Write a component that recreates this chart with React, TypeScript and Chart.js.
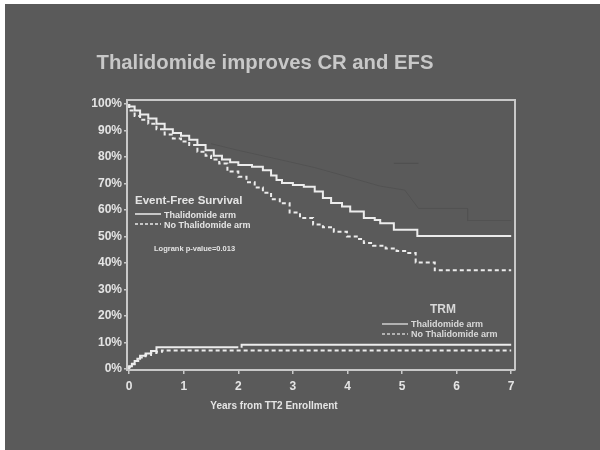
import { useEffect, useRef } from "react";
import { Chart, registerables } from "chart.js";
Chart.register(...registerables);

const chartTitle = "Thalidomide improves CR and EFS";
const xAxisTitle = "Years from TT2 Enrollment";
const xTickValues = [0, 1, 2, 3, 4, 5, 6, 7];
const yTickValues = [0, 10, 20, 30, 40, 50, 60, 70, 80, 90, 100];

// Event-free survival, thalidomide arm (solid)
const efsThalYears = [0, 0.1, 0.2, 0.35, 0.5, 0.65, 0.8, 0.95, 1.1, 1.25, 1.4, 1.55, 1.7, 1.85, 2.0, 2.25, 2.45, 2.6, 2.7, 2.8, 3.0, 3.2, 3.4, 3.55, 3.7, 3.9, 4.05, 4.3, 4.5, 4.6, 4.85, 5.28, 5.75, 7.0];
const efsThalPct = [100, 99, 97.5, 96, 94.5, 92.5, 90.5, 89, 88, 86.5, 84.5, 82.5, 80.5, 79, 78, 77, 76.3, 75, 73, 71.3, 70.2, 69.4, 68.8, 67, 64.5, 62.6, 61.3, 59.4, 57, 56.2, 55, 52.5, 50.2, 50.2];

// Event-free survival, no thalidomide arm (dashed)
const efsNoThalYears = [0, 0.1, 0.2, 0.35, 0.5, 0.65, 0.8, 0.95, 1.1, 1.25, 1.4, 1.5, 1.65, 1.8, 2.0, 2.15, 2.3, 2.45, 2.6, 2.76, 2.94, 3.13, 3.37, 3.55, 3.75, 3.99, 4.17, 4.3, 4.47, 4.7, 4.9, 5.09, 5.25, 5.6, 6.1, 7.0];
const efsNoThalPct = [100, 97.5, 95.5, 94, 92.5, 90.5, 88.5, 87, 85.8, 84.5, 82, 80.5, 79, 77.5, 74.5, 72.5, 70.5, 68.5, 66.5, 64, 62.5, 59, 57, 54.5, 53.5, 51.8, 50, 49, 47.5, 46.5, 45.5, 44.5, 43.8, 40.2, 37.2, 37.2];

// Treatment-related mortality, thalidomide arm (solid)
const trmThalYears = [0, 0.05, 0.1, 0.15, 0.2, 0.3, 0.4, 0.5, 0.6, 2.0, 2.03, 2.06, 2.06, 7.0];
const trmThalPct = [0, 1, 2, 3, 3.8, 5, 5.8, 6.8, 8.2, 8.2, null, 8.0, 9.1, 9.1];

// Treatment-related mortality, no thalidomide arm (dashed)
const trmNoThalYears = [0, 0.05, 0.1, 0.2, 0.3, 0.4, 0.5, 0.6, 0.9, 7.0];
const trmNoThalPct = [0, 0.8, 1.8, 3, 4.3, 5.3, 6, 6.5, 7, 7];

// faint ghost traces left on the slide
const ghostYears = [1.5, 2.0, 2.76, 3.4, 3.75, 4.6, 5.05, 5.3, 6.2, 6.2, 7.0];
const ghostPct = [85, 82.5, 79, 76, 74, 69, 67.5, 60.6, 60.6, 56, 56];
const ghostShortYears = [4.85, 5.3];
const ghostShortPct = [77.6, 77.6];

const FONT = '"Liberation Sans", Arial, sans-serif';
const AXIS = "#c8c8c8";
const TEXT = "#e4e4e4";
const LINE = "#ececec";

const pts = (xs: number[], ys: (number | null)[]) => xs.map((x, i) => ({ x, y: ys[i] }));

export default function App() {
  const ref = useRef<HTMLCanvasElement>(null);
  useEffect(() => {
    if (!ref.current) return;
    const textPlugin = {
      id: "texts",
      afterDraw(chart: any) {
        const ctx = chart.ctx;
        const a = chart.chartArea;
        ctx.save();
        // top & right border
        ctx.strokeStyle = AXIS;
        ctx.lineWidth = 2;
        ctx.beginPath();
        ctx.moveTo(a.left, a.top);
        ctx.lineTo(a.right, a.top);
        ctx.lineTo(a.right, a.bottom);
        ctx.stroke();
        // title
        ctx.fillStyle = "#c8c8c8";
        ctx.textAlign = "center";
        ctx.textBaseline = "middle";
        ctx.font = `bold 20.3px ${FONT}`;
        ctx.fillText(chartTitle, 260, 59);
        // x axis title
        ctx.fillStyle = TEXT;
        ctx.font = `bold 10px ${FONT}`;
        ctx.fillText(xAxisTitle, 269, 402);
        // EFS legend
        ctx.textAlign = "left";
        ctx.font = `bold 11.5px ${FONT}`;
        ctx.fillText("Event-Free Survival", 130, 197);
        ctx.font = `bold 9px ${FONT}`;
        ctx.fillText("Thalidomide arm", 159, 212);
        ctx.fillText("No Thalidomide arm", 159, 222);
        ctx.font = `bold 7.5px ${FONT}`;
        ctx.fillText("Logrank p-value=0.013", 149, 245);
        ctx.strokeStyle = LINE;
        ctx.lineWidth = 1.5;
        ctx.beginPath();
        ctx.moveTo(130, 210);
        ctx.lineTo(156, 210);
        ctx.stroke();
        ctx.setLineDash([3, 2]);
        ctx.beginPath();
        ctx.moveTo(130, 220);
        ctx.lineTo(156, 220);
        ctx.stroke();
        ctx.setLineDash([]);
        // TRM legend
        ctx.fillStyle = "#d8d8d8";
        ctx.textAlign = "center";
        ctx.font = `bold 12px ${FONT}`;
        ctx.fillText("TRM", 438, 306);
        ctx.textAlign = "left";
        ctx.font = `bold 9px ${FONT}`;
        ctx.fillText("Thalidomide arm", 406, 321);
        ctx.fillText("No Thalidomide arm", 406, 331);
        ctx.strokeStyle = "#cfcfcf";
        ctx.beginPath();
        ctx.moveTo(377, 320);
        ctx.lineTo(403, 320);
        ctx.stroke();
        ctx.setLineDash([3, 2]);
        ctx.beginPath();
        ctx.moveTo(377, 330);
        ctx.lineTo(403, 330);
        ctx.stroke();
        ctx.restore();
      },
    };
    const chart = new Chart(ref.current, {
      type: "line",
      data: {
        datasets: [
          { data: pts(ghostYears, ghostPct), borderColor: "#525252", borderWidth: 1, pointRadius: 0, stepped: false },
          { data: pts(ghostShortYears, ghostShortPct), borderColor: "#4f4f4f", borderWidth: 1.2, pointRadius: 0, stepped: false },
          { data: pts(efsThalYears, efsThalPct), borderColor: LINE, borderWidth: 2, pointRadius: 0, stepped: "after" },
          { data: pts(efsNoThalYears, efsNoThalPct), borderColor: LINE, borderWidth: 2, pointRadius: 0, stepped: "after", borderDash: [4, 3] },
          { data: pts(trmThalYears, trmThalPct), borderColor: LINE, borderWidth: 2, pointRadius: 0, stepped: "after", spanGaps: false },
          { data: pts(trmNoThalYears, trmNoThalPct), borderColor: LINE, borderWidth: 2, pointRadius: 0, stepped: "after", borderDash: [4, 3] },
        ] as any,
      },
      options: {
        animation: false,
        responsive: false,
        maintainAspectRatio: false,
        layout: { padding: { top: 96, right: 85, left: 0, bottom: 0 } },
        plugins: { legend: { display: false }, tooltip: { enabled: false }, title: { display: false } },
        scales: {
          x: {
            type: "linear",
            min: -0.04,
            max: 7.07,
            afterBuildTicks: (s: any) => { s.ticks = xTickValues.map((v) => ({ value: v })); },
            afterFit: (s: any) => { s.height = 80; },
            ticks: { color: TEXT, font: { family: FONT, size: 12, weight: "bold" }, padding: 5, maxRotation: 0, autoSkip: false, callback: (v: any) => String(v) },
            grid: { drawOnChartArea: false, drawTicks: true, tickLength: 4, color: AXIS, lineWidth: 1.5 },
            border: { display: true, color: AXIS, width: 2 },
          },
          y: {
            type: "linear",
            min: -0.4,
            max: 101.5,
            afterBuildTicks: (s: any) => { s.ticks = yTickValues.map((v) => ({ value: v })); },
            afterFit: (s: any) => { s.width = 122; },
            ticks: { color: TEXT, font: { family: FONT, size: 12, weight: "bold" }, padding: 2, autoSkip: false, callback: (v: any) => `${v}%` },
            grid: { drawOnChartArea: false, drawTicks: true, tickLength: 3, color: AXIS, lineWidth: 1.5 },
            border: { display: true, color: AXIS, width: 2 },
          },
        },
      } as any,
      plugins: [textPlugin],
    });
    return () => chart.destroy();
  }, []);
  return (
    <div style={{ position: "fixed", left: 0, top: 0, width: 600, height: 450, background: "#ffffff" }}>
      <canvas ref={ref} width={595} height={446} style={{ position: "absolute", left: 5, top: 4, width: 595, height: 446, background: "#5a5a5a" }} />
    </div>
  );
}
